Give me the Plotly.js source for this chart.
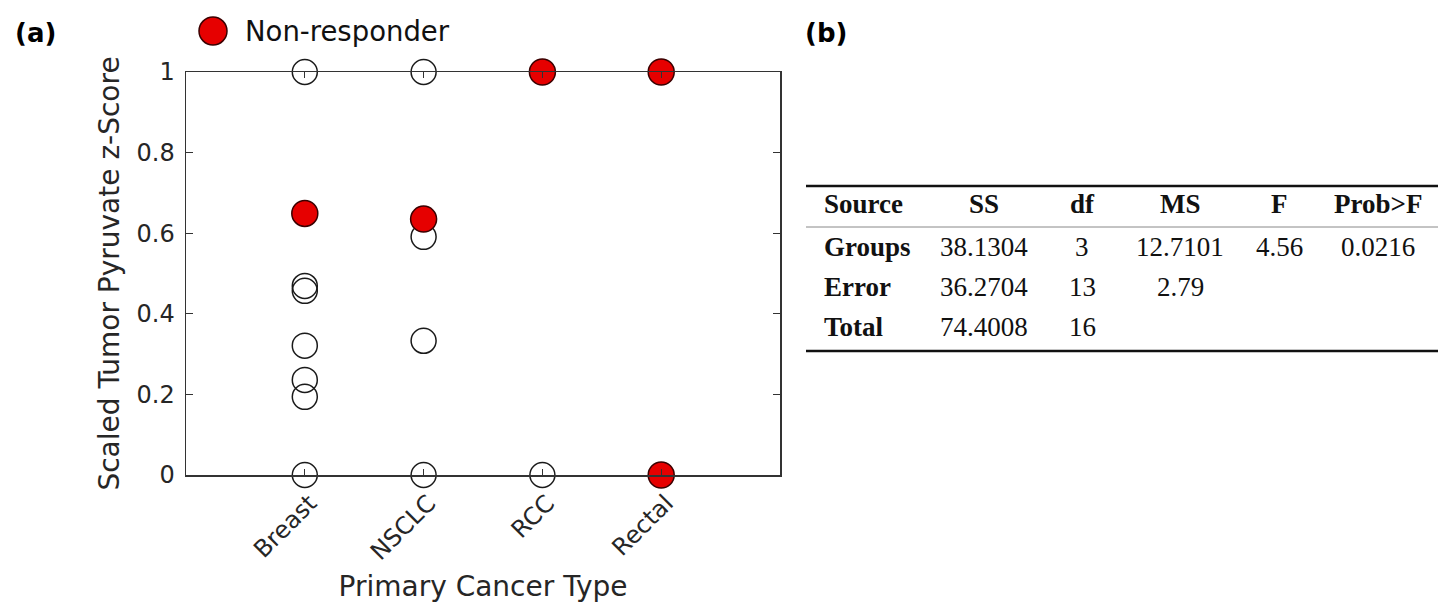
<!DOCTYPE html>
<html>
<head>
<meta charset="utf-8">
<script src="https://cdn.plot.ly/plotly-3.0.1.min.js"></script>
<style>
  html, body { margin: 0; padding: 0; background: #fff; }
  #graph { width: 1448px; height: 607px; }
</style>
</head>
<body>
<div id="graph"></div>
<script>
// Categories on the x axis
const categories = ['Breast', 'NSCLC', 'RCC', 'Rectal'];

// Responders (open circles)
const responderX = ['Breast', 'Breast', 'Breast', 'Breast', 'Breast', 'Breast', 'Breast',
                    'NSCLC', 'NSCLC', 'NSCLC', 'NSCLC', 'RCC'];
const responderY = [1, 0.469, 0.457, 0.321, 0.236, 0.194, 0,
                    1, 0.591, 0.333, 0, 0];

// Non-responders (red circles)
const nonResponderX = ['Breast', 'NSCLC', 'RCC', 'Rectal', 'Rectal'];
const nonResponderY = [0.649, 0.635, 1, 1, 0];

// ANOVA table (b)
const tableHeader = ['Source', 'SS', 'df', 'MS', 'F', 'Prob>F'];
const tableSource = ['Groups', 'Error', 'Total'];
const tableSS = ['38.1304', '36.2704', '74.4008'];
const tableDf = ['3', '13', '16'];
const tableMS = ['12.7101', '2.79', ''];
const tableF = ['4.56', '', ''];
const tableProb = ['0.0216', '', ''];

// Plot area in pixels
const L = 186, R = 780, T = 72, B = 475;
const W = 1448, H = 607;
const px = p => (p - L) / (R - L);
const py = p => (B - p) / (B - T);

const axisColor = '#333333';
const textColor = '#262626';
const sans = 'DejaVu Sans';
const serif = 'Liberation Serif, Times New Roman, serif';

const traces = [
    {
        x: responderX,
        y: responderY,
        type: 'scatter',
        mode: 'markers',
        cliponaxis: false,
        showlegend: false,
        marker: { symbol: 'circle', size: 25, color: 'rgba(0,0,0,0)', line: { color: '#1a1a1a', width: 1.5 } }
    },
    {
        x: nonResponderX,
        y: nonResponderY,
        type: 'scatter',
        mode: 'markers',
        name: 'Non-responder',
        cliponaxis: false,
        showlegend: false,
        marker: { symbol: 'circle', size: 26, color: '#e60000', line: { color: '#3a0000', width: 1.5 } }
    }
];

// Table annotations
const annotations = [];
const colX = [822, 984, 1082, 1180, 1279, 1378];
const rowY = [246.5, 286.5, 326.5];
const headerY = 204;
const columns = [tableSource, tableSS, tableDf, tableMS, tableF, tableProb];

tableHeader.forEach((h, i) => {
    annotations.push({
        xref: 'paper', yref: 'paper',
        x: px(colX[i]), y: py(headerY),
        xanchor: i === 0 ? 'left' : 'center', yanchor: 'middle',
        text: '<b>' + h + '</b>', showarrow: false,
        font: { family: serif, size: 27, color: '#111' }
    });
});
columns.forEach((col, i) => {
    col.forEach((v, r) => {
        if (v === '') return;
        annotations.push({
            xref: 'paper', yref: 'paper',
            x: px(colX[i]), y: py(rowY[r]),
            xanchor: i === 0 ? 'left' : 'center', yanchor: 'middle',
            text: i === 0 ? '<b>' + v + '</b>' : v, showarrow: false,
            font: { family: serif, size: 27, color: '#111' }
        });
    });
});

// Panel labels
annotations.push({
    xref: 'paper', yref: 'paper', x: px(13), y: py(33), xanchor: 'left', yanchor: 'middle',
    text: '<b>(a)</b>', showarrow: false, font: { family: sans, size: 26, color: '#000' }
});
annotations.push({
    xref: 'paper', yref: 'paper', x: px(803), y: py(33), xanchor: 'left', yanchor: 'middle',
    text: '<b>(b)</b>', showarrow: false, font: { family: sans, size: 26, color: '#000' }
});

// Legend text
annotations.push({
    xref: 'paper', yref: 'paper', x: px(243), y: py(31), xanchor: 'left', yanchor: 'middle',
    text: 'Non-responder', showarrow: false, font: { family: sans, size: 27.5, color: '#111' }
});

const shapes = [
    // legend marker
    { type: 'circle', xref: 'paper', yref: 'paper',
      x0: px(199), x1: px(227), y0: py(45), y1: py(17),
      fillcolor: '#e60000', line: { color: '#3a0000', width: 1.5 } },
    // table rules
    { type: 'line', xref: 'paper', yref: 'paper', x0: px(806), x1: px(1438), y0: py(186), y1: py(186),
      line: { color: '#111', width: 2.5 } },
    { type: 'line', xref: 'paper', yref: 'paper', x0: px(806), x1: px(1438), y0: py(227), y1: py(227),
      line: { color: '#888', width: 1 } },
    { type: 'line', xref: 'paper', yref: 'paper', x0: px(806), x1: px(1438), y0: py(351), y1: py(351),
      line: { color: '#111', width: 2.5 } }
];

const layout = {
    width: W,
    height: H,
    margin: { l: L, r: W - R, t: T, b: H - B, pad: 0 },
    paper_bgcolor: '#fff',
    plot_bgcolor: '#fff',
    showlegend: false,
    font: { family: sans, color: textColor },
    xaxis: {
        type: 'category',
        categoryorder: 'array',
        categoryarray: categories,
        range: [-1, 4],
        showline: true, linecolor: axisColor, linewidth: 1.5, mirror: 'allticks',
        ticks: 'inside', ticklen: 6, tickcolor: axisColor, tickwidth: 1,
        showgrid: false, zeroline: false,
        tickangle: -45,
        ticklabelshift: 5,
        ticklabelstandoff: 3,
        tickfont: { family: sans, size: 24, color: textColor },
        title: { text: 'Primary Cancer Type', font: { family: sans, size: 28, color: textColor }, standoff: 11 }
    },
    yaxis: {
        range: [0, 1],
        tickvals: [0, 0.2, 0.4, 0.6, 0.8, 1],
        ticktext: ['0', '0.2', '0.4', '0.6', '0.8', '1'],
        showline: true, linecolor: axisColor, linewidth: 1.5, mirror: 'allticks',
        ticks: 'inside', ticklen: 7, tickcolor: axisColor, tickwidth: 1,
        showgrid: false, zeroline: false,
        ticklabelstandoff: 5,
        tickfont: { family: sans, size: 24, color: textColor },
        title: { text: 'Scaled Tumor Pyruvate z-Score', font: { family: sans, size: 28, color: textColor }, standoff: 8 }
    },
    annotations: annotations,
    shapes: shapes
};

Plotly.newPlot('graph', traces, layout, { displayModeBar: false, staticPlot: true });
</script>
</body>
</html>
